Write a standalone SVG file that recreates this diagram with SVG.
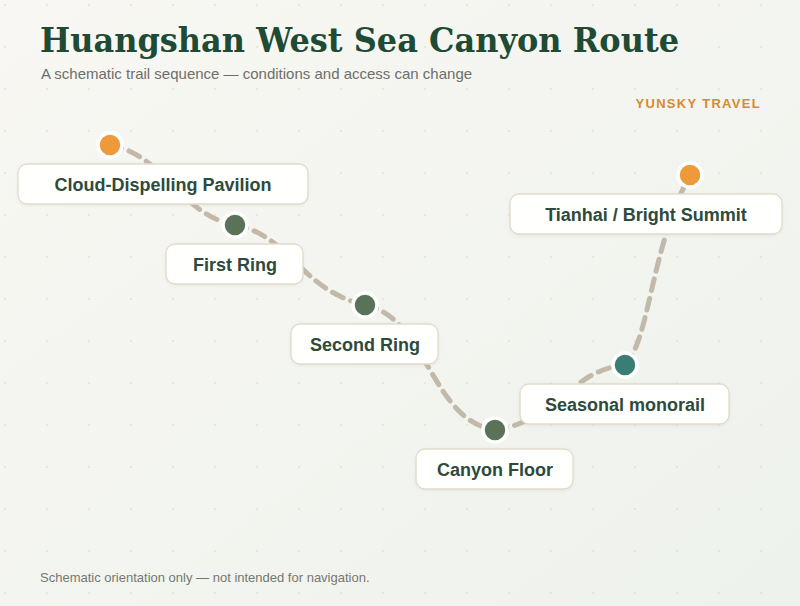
<svg xmlns="http://www.w3.org/2000/svg" width="800" height="606" viewBox="0 0 800 606">
<defs>
<linearGradient id="bg" x1="0" y1="0" x2="1" y2="1">
<stop offset="0" stop-color="#f8f7f3"/>
<stop offset="1" stop-color="#eef2ec"/>
</linearGradient>
<pattern id="dots" width="42" height="42" patternUnits="userSpaceOnUse" x="0" y="0">
<circle cx="5" cy="5" r="1" fill="#dcdcd2" opacity="0.7"/>
</pattern>
<filter id="sh" x="-10%" y="-30%" width="120%" height="160%">
<feDropShadow dx="0" dy="1" stdDeviation="1.5" flood-color="#8a8070" flood-opacity="0.12"/>
</filter>
<style>
.box{fill:#fffffd;stroke:#e2dacb;stroke-width:1.3;filter:url(#sh)}
.lbl{font-family:"Liberation Sans",Arial,sans-serif;font-weight:bold;font-size:18px;fill:#2d4a3c;text-anchor:middle}
.dot{stroke:#ffffff;stroke-width:3.5}
.orange{fill:#ef9a3a}
.green{fill:#5a7358}
.teal{fill:#3a7d74}
.trail{fill:none;stroke:#c3b9a9;stroke-width:5;stroke-dasharray:12 8;stroke-linecap:round}
</style>
</defs>
<rect width="800" height="606" fill="url(#bg)"/>
<rect width="800" height="606" fill="url(#dots)"/>
<text x="40" y="52" font-family="'DejaVu Serif',serif" font-weight="bold" font-size="34" textLength="639" lengthAdjust="spacingAndGlyphs" fill="#1f4a33">Huangshan West Sea Canyon Route</text>
<text x="41" y="79" font-family="'Liberation Sans',Arial,sans-serif" font-size="15" fill="#6e6e6a">A schematic trail sequence — conditions and access can change</text>
<text x="761" y="108" text-anchor="end" font-family="'Liberation Sans',Arial,sans-serif" font-weight="bold" font-size="13" letter-spacing="1.3" fill="#d98a2b">YUNSKY TRAVEL</text>
<g id="connectors">
<path class="trail" d="M110,145 C165,155 180,215 235,225"/>
<path class="trail" d="M235,225 C290,235 300,290 365,305"/>
<path class="trail" d="M365,305 C428,318 430,420 495,430"/>
<path class="trail" d="M495,430 C560,420 570,370 625,365"/>
<path class="trail" d="M625,365 C650,340 650,250 690,175"/>
</g>
<g id="node-cloud">
<rect class="box" x="18" y="164" width="290" height="40" rx="9"/>
<text class="lbl" x="163" y="191">Cloud-Dispelling Pavilion</text>
<circle class="dot orange" cx="110" cy="145" r="12"/>
</g>
<g id="node-first">
<rect class="box" x="166" y="244" width="137" height="40" rx="9"/>
<text class="lbl" x="235" y="271">First Ring</text>
<circle class="dot green" cx="235" cy="225" r="12"/>
</g>
<g id="node-second">
<rect class="box" x="291" y="324" width="147" height="40" rx="9"/>
<text class="lbl" x="365" y="351">Second Ring</text>
<circle class="dot green" cx="365" cy="305" r="12"/>
</g>
<g id="node-canyon">
<rect class="box" x="416" y="449" width="157" height="40" rx="9"/>
<text class="lbl" x="495" y="476">Canyon Floor</text>
<circle class="dot green" cx="495" cy="430" r="12"/>
</g>
<g id="node-monorail">
<rect class="box" x="520" y="384" width="209" height="40" rx="9"/>
<text class="lbl" x="625" y="411">Seasonal monorail</text>
<circle class="dot teal" cx="625" cy="365" r="12"/>
</g>
<g id="node-tianhai">
<rect class="box" x="510" y="194" width="272" height="40" rx="9"/>
<text class="lbl" x="646" y="221">Tianhai / Bright Summit</text>
<circle class="dot orange" cx="690" cy="175" r="12"/>
</g>
<text x="40" y="582" font-family="'Liberation Sans',Arial,sans-serif" font-size="13" fill="#77776f">Schematic orientation only — not intended for navigation.</text>
</svg>
